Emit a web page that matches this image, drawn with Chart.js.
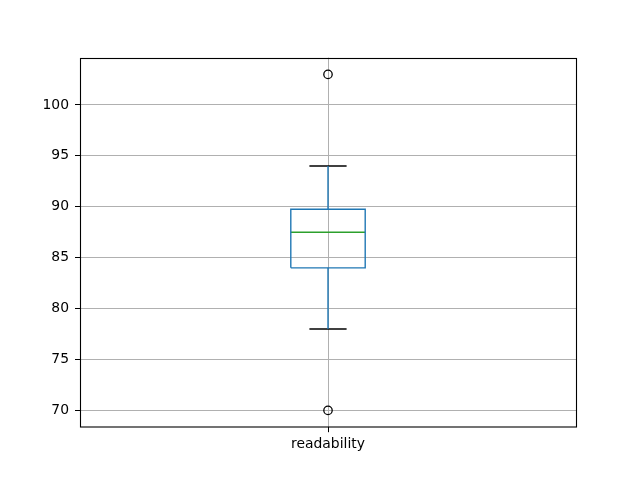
<!DOCTYPE html>
<html>
<head>
<meta charset="utf-8">
<script src="https://cdn.jsdelivr.net/npm/chart.js@4/dist/chart.umd.min.js"></script>
<style>
  html, body { margin: 0; padding: 0; background: #ffffff; }
  #wrap { width: 640px; height: 480px; }
</style>
</head>
<body>
<div id="wrap"><canvas id="c" width="640" height="480"></canvas></div>
<script>
// ---- data ----
const categories = ["readability"];
const q1 = [84];
const median = [87.5];
const q3 = [89.75];
const whiskerLow = [78];
const whiskerHigh = [94];
const outliers = [[103, 70]];
const yTicks = [70, 75, 80, 85, 90, 95, 100];

// ---- styling constants ----
const BOX_HALF = 0.075;
const CAP_HALF = 0.0375;
const BLUE = '#1f77b4';
const GREEN = '#2ca02c';
const LW = 1.4;
const FONT = { family: 'DejaVu Sans', size: 13.9 };

const datasets = [];
categories.forEach((cat, i) => {
  const x = i + 1;
  // box
  datasets.push({
    data: [
      { x: x - BOX_HALF, y: q1[i] }, { x: x + BOX_HALF, y: q1[i] },
      { x: x + BOX_HALF, y: q3[i] }, { x: x - BOX_HALF, y: q3[i] },
      { x: x - BOX_HALF, y: q1[i] }
    ],
    borderColor: BLUE, borderWidth: LW, pointRadius: 0, showLine: true, fill: false
  });
  // whiskers
  datasets.push({
    data: [{ x: x, y: q1[i] }, { x: x, y: whiskerLow[i] }],
    borderColor: BLUE, borderWidth: LW, pointRadius: 0, showLine: true
  });
  datasets.push({
    data: [{ x: x, y: q3[i] }, { x: x, y: whiskerHigh[i] }],
    borderColor: BLUE, borderWidth: LW, pointRadius: 0, showLine: true
  });
  // caps
  datasets.push({
    data: [{ x: x - CAP_HALF, y: whiskerLow[i] }, { x: x + CAP_HALF, y: whiskerLow[i] }],
    borderColor: '#000000', borderWidth: LW, pointRadius: 0, showLine: true
  });
  datasets.push({
    data: [{ x: x - CAP_HALF, y: whiskerHigh[i] }, { x: x + CAP_HALF, y: whiskerHigh[i] }],
    borderColor: '#000000', borderWidth: LW, pointRadius: 0, showLine: true
  });
  // median
  datasets.push({
    data: [{ x: x - BOX_HALF, y: median[i] }, { x: x + BOX_HALF, y: median[i] }],
    borderColor: GREEN, borderWidth: LW, pointRadius: 0, showLine: true
  });
  // outliers
  datasets.push({
    data: outliers[i].map(v => ({ x: x, y: v })),
    showLine: false, pointStyle: 'circle', pointRadius: 4.2,
    pointBorderColor: '#000000', pointBackgroundColor: 'rgba(0,0,0,0)',
    pointBorderWidth: 1.3, borderColor: '#000000', backgroundColor: 'rgba(0,0,0,0)'
  });
});

const frame = {
  id: 'frame',
  afterDatasetsDraw(chart) {
    const a = chart.chartArea, ctx = chart.ctx;
    ctx.save();
    ctx.strokeStyle = '#000000';
    ctx.lineWidth = 1.1;
    ctx.strokeRect(Math.round(a.left) + 0.5, Math.round(a.top) + 0.5,
                   Math.round(a.right) - Math.round(a.left), Math.round(a.bottom) - Math.round(a.top) - 0.5);
    ctx.restore();
  }
};

new Chart(document.getElementById('c'), {
  type: 'scatter',
  data: { datasets },
  plugins: [frame],
  options: {
    responsive: false,
    animation: false,
    layout: { padding: { top: 57.6, right: 64, left: 0, bottom: 0 } },
    plugins: { legend: { display: false }, tooltip: { enabled: false } },
    scales: {
      x: {
        type: 'linear',
        min: 0.5, max: 1.5,
        afterBuildTicks: s => { s.ticks = categories.map((c, i) => ({ value: i + 1 })); },
        afterFit: s => { s.height = 52.8; },
        ticks: {
          callback: (v) => categories[Math.round(v) - 1] || '',
          color: '#000000', font: FONT, padding: 4, maxRotation: 0, autoSkip: false
        },
        grid: { color: '#b0b0b0', lineWidth: 1, tickLength: 5, tickColor: '#000000', drawTicks: true },
        border: { display: false }
      },
      y: {
        type: 'linear',
        min: 68.35, max: 104.65,
        afterBuildTicks: s => { s.ticks = yTicks.map(v => ({ value: v })); },
        afterFit: s => { s.width = 80; },
        ticks: { color: '#000000', font: FONT, padding: 6 },
        grid: { color: '#b0b0b0', lineWidth: 1, tickLength: 5, tickColor: '#000000', drawTicks: true },
        border: { display: false }
      }
    }
  }
});
</script>
</body>
</html>
